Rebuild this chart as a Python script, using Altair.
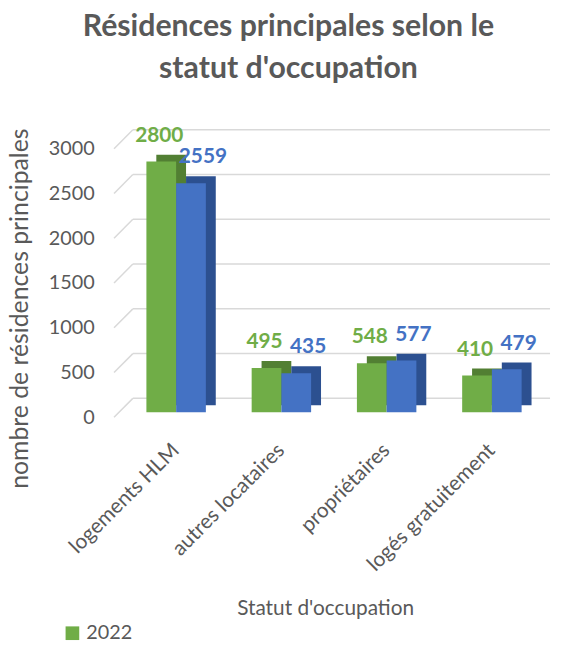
import altair as alt
import pandas as pd

categories = ["logements HLM", "autres locataires", "propriétaires", "logés gratuitement"]
series = ["2022", "2016"]
values_2022 = [2800, 495, 548, 410]
values_other = [2559, 435, 577, 479]
y_ticks = [0, 500, 1000, 1500, 2000, 2500, 3000]

GREEN = "#70AD47"
GREEN_D = "#527F33"
BLUE = "#4472C4"
BLUE_D = "#2C5090"
GRAY = "#595959"
FONT = "Lato"

rows = []
for c, v in zip(categories, values_2022):
    rows.append({"cat": c, "serie": series[0], "val": v})
for c, v in zip(categories, values_other):
    rows.append({"cat": c, "serie": series[1], "val": v})
df = pd.DataFrame(rows)
grid_df = pd.DataFrame({"val": y_ticks})

W, H = 444, 271
DEPTH = 19

xs = alt.X("cat:N", sort=categories,
           scale=alt.Scale(paddingInner=0, paddingOuter=0.09),
           axis=alt.Axis(title="Statut d'occupation", labelAngle=-45, labelAlign="right",
                         labelBaseline="middle", labelPadding=30, ticks=False, domain=False,
                         grid=False, labelFontSize=21, labelColor=GRAY, labelFont=FONT,
                         titleFont=FONT, titleFontSize=21, titleFontWeight="normal",
                         titleColor=GRAY, titleX=213, titleY=193, titleBaseline="middle",
                         titleAlign="center"))
ys = alt.Y("val:Q", scale=alt.Scale(domain=[0, 3000], nice=False),
           axis=alt.Axis(title="nombre de résidences principales", values=y_ticks, format="d",
                         ticks=False, domain=False, grid=False, labelPadding=20,
                         labelFontSize=20, labelColor=GRAY, labelFont=FONT,
                         titleFont=FONT, titleFontSize=25, titleFontWeight="normal",
                         titleColor=GRAY, titleX=-82, titleY=161, titleAlign="center",
                         titleBaseline="bottom", titleAngle=270))

base = alt.Chart(df)

grid_h = alt.Chart(grid_df).mark_rule(color="#D9D9D9", strokeWidth=1.5, yOffset=-DEPTH).encode(
    y=ys, x=alt.value(DEPTH), x2=alt.value(440))
grid_d = alt.Chart(grid_df).mark_rule(color="#D9D9D9", strokeWidth=1.5, y2Offset=-DEPTH).encode(
    y=ys, y2=alt.Y2("val:Q"), x=alt.value(0), x2=alt.value(DEPTH))

color_enc = alt.Color("serie:N", scale=alt.Scale(domain=series, range=[GREEN, BLUE]),
                      legend=alt.Legend(title=None, values=["2022"], orient="none",
                                        legendX=-52, legendY=479, symbolType="square",
                                        symbolSize=190, symbolStrokeWidth=0,
                                        labelFontSize=20, labelFont=FONT, labelColor=GRAY,
                                        symbolOpacity=1))

g = alt.datum.serie == series[0]
b = alt.datum.serie == series[1]

depth_g = base.transform_filter(g).mark_bar(width=30, xOffset=-5, yOffset=-12, y2Offset=-12,
                                             color=GREEN_D).encode(x=xs, y=ys)
depth_b = base.transform_filter(b).mark_bar(width=30, xOffset=25, yOffset=-12, y2Offset=-12,
                                             color=BLUE_D).encode(x=xs, y=ys)
front_g = base.transform_filter(g).mark_bar(width=30, xOffset=-15, yOffset=-5, y2Offset=-5,
                                             opacity=1).encode(x=xs, y=ys, color=color_enc)
front_b = base.transform_filter(b).mark_bar(width=30, xOffset=15, yOffset=-5, y2Offset=-5,
                                             opacity=1).encode(x=xs, y=ys, color=color_enc)
lab_g = base.transform_filter(g).mark_text(dx=-17, dy=-31, font=FONT, fontSize=21,
                                            fontWeight="bold", color=GREEN).encode(
    x=xs, y=ys, text="val:Q")
lab_b = base.transform_filter(b).mark_text(dx=27, dy=-31, font=FONT, fontSize=21,
                                            fontWeight="bold", color=BLUE).encode(
    x=xs, y=ys, text="val:Q")

chart = alt.layer(grid_h, grid_d, depth_g, depth_b, front_g, front_b, lab_g, lab_b).properties(
    width=W, height=H,
    title=alt.TitleParams(["Résidences principales selon le", "statut d'occupation"],
                          font=FONT, fontSize=30.5, fontWeight="bold", color=GRAY,
                          lineHeight=42, anchor="middle", dx=-46, offset=41),
    autosize=alt.AutoSizeParams(type="none"),
    padding={"left": 107, "top": 139, "right": 0, "bottom": 232},
).configure_view(stroke=None)

chart.save("out.html", embed_options={"renderer": "svg", "actions": False})
